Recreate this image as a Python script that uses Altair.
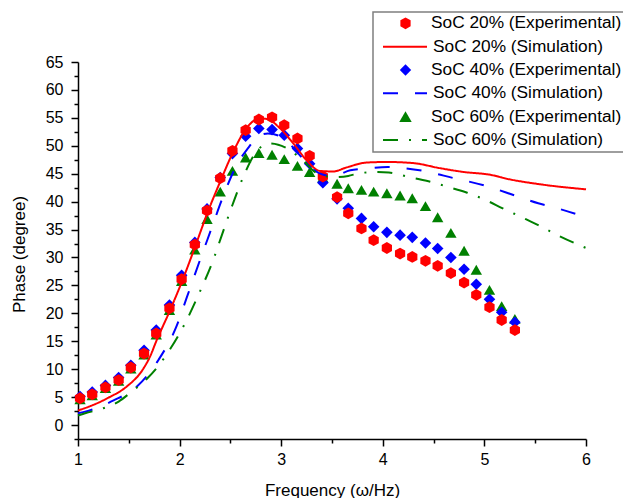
import altair as alt
import pandas as pd

# ---------------- data ----------------
freq_exp = [1.02, 1.14, 1.27, 1.40, 1.52, 1.65, 1.77, 1.90, 2.02, 2.15, 2.27, 2.40,
            2.52, 2.65, 2.78, 2.91, 3.03, 3.16, 3.28, 3.41, 3.55, 3.66, 3.79, 3.91,
            4.04, 4.17, 4.29, 4.42, 4.54, 4.67, 4.80, 4.92, 5.05, 5.17, 5.30]
phase_exp_20 = [4.8, 5.5, 6.75, 8.05, 10.3, 12.8, 16.4, 20.9, 26.1, 32.3, 38.4, 44.2,
                49.1, 52.8, 54.7, 55.1, 53.7, 51.3, 48.2, 44.5, 40.8, 37.9, 35.2, 33.1,
                31.7, 30.7, 30.1, 29.4, 28.5, 27.2, 25.5, 23.3, 21.1, 18.8, 17.0]
phase_exp_40 = [5.1, 5.9, 7.1, 8.5, 10.7, 13.4, 17.0, 21.5, 26.8, 32.7, 38.7, 44.3,
                48.6, 51.7, 53.1, 52.9, 51.9, 49.5, 46.8, 43.4, 40.5, 38.8, 37.0, 35.5,
                34.5, 34.0, 33.6, 32.6, 31.6, 30.0, 27.9, 25.2, 22.5, 20.2, 18.4]
phase_exp_60 = [4.6, 5.3, 6.6, 7.9, 10.1, 12.6, 16.2, 20.6, 25.8, 31.4, 36.9, 41.8,
                45.5, 47.9, 48.7, 48.4, 47.6, 46.4, 45.3, 44.3, 43.2, 42.4, 42.1, 41.8,
                41.5, 41.1, 40.6, 39.2, 37.2, 34.4, 31.2, 27.8, 24.2, 21.3, 19.0]

freq_sim_20 = [1.00, 1.15, 1.30, 1.48, 1.64, 1.71, 1.77, 1.90, 2.03, 2.15, 2.27, 2.40,
               2.53, 2.66, 2.79, 2.86, 2.99, 3.12, 3.25, 3.38, 3.51, 3.64, 3.84, 4.04,
               4.30, 4.56, 4.80, 5.06, 5.22, 5.55, 6.00]
phase_sim_20 = [2.6, 3.6, 4.9, 6.9, 10.0, 12.3, 15.0, 20.3, 26.0, 31.8, 37.8, 43.6,
                49.0, 53.2, 54.9, 54.8, 53.1, 50.4, 47.4, 45.5, 45.4, 46.1, 47.0, 47.1,
                46.9, 46.0, 45.3, 44.8, 44.1, 43.1, 42.2]

freq_sim_40 = [1.00, 1.07, 1.35, 1.58, 1.79, 1.97, 2.07, 2.20, 2.31, 2.43, 2.56, 2.67,
               2.78, 2.87, 3.02, 3.15, 3.28, 3.40, 3.51, 3.68, 3.82, 4.05, 4.15, 4.40,
               4.70, 5.00, 5.30, 5.53, 5.68, 6.00]
phase_sim_40 = [2.1, 2.4, 4.4, 6.9, 11.6, 17.7, 22.8, 29.5, 35.0, 41.0, 46.5, 49.5,
                51.8, 52.2, 51.4, 49.0, 46.3, 44.9, 44.6, 45.6, 45.9, 46.2, 46.1, 45.5,
                44.2, 42.9, 41.1, 39.7, 39.0, 37.2]

freq_sim_60 = [1.00, 1.07, 1.25, 1.40, 1.51, 1.69, 1.80, 1.90, 2.07, 2.20, 2.33, 2.41,
               2.52, 2.64, 2.75, 2.88, 2.97, 3.07, 3.20, 3.38, 3.53, 3.66, 3.77, 3.95,
               4.06, 4.26, 4.44, 4.63, 4.83, 5.01, 5.18, 5.38, 5.53, 5.74, 6.00]
phase_sim_60 = [1.7, 2.1, 3.0, 4.2, 5.7, 8.5, 10.8, 13.4, 18.8, 23.9, 29.5, 33.7,
                39.4, 45.0, 48.8, 50.4, 50.2, 49.4, 47.6, 44.8, 44.4, 44.6, 45.1, 45.3,
                45.2, 44.4, 43.7, 42.7, 41.6, 40.3, 38.8, 37.1, 35.8, 33.8, 31.7]

series_exp = ["SoC 20% (Experimental)", "SoC 40% (Experimental)", "SoC 60% (Experimental)"]
series_sim = ["SoC 20% (Simulation)", "SoC 40% (Simulation)", "SoC 60% (Simulation)"]
legend_labels = [series_exp[0], series_sim[0], series_exp[1], series_sim[1],
                 series_exp[2], series_sim[2]]

x_tick_values = [1, 1.5, 2, 2.5, 3, 3.5, 4, 4.5, 5, 5.5, 6]
y_tick_values = [-2.5 + 2.5 * i for i in range(28)]

# ---------------- styles ----------------
FONT = "Liberation Sans"
colors = ["#ff0000", "#0000ff", "#008000"]
HEX = "M0,-1L0.866,-0.5L0.866,0.5L0,1L-0.866,0.5L-0.866,-0.5Z"
shapes = [HEX, "diamond", "triangle-up"]
sizes = [140, 130, 155]
dashes = [[1, 0], [15, 17], [15, 11, 2, 11]]

# ---------------- tables ----------------
exp_rows = []
for k in [2, 1, 0]:  # green drawn first, red last (on top)
    ys = [phase_exp_20, phase_exp_40, phase_exp_60][k]
    for f, p in zip(freq_exp, ys):
        exp_rows.append({"freq": f, "phase": p, "series": series_exp[k]})
df_exp = pd.DataFrame(exp_rows)

sim_rows = []
for k, (fs, ps) in enumerate([(freq_sim_20, phase_sim_20), (freq_sim_40, phase_sim_40),
                              (freq_sim_60, phase_sim_60)]):
    for f, p in zip(fs, ps):
        sim_rows.append({"freq": f, "phase": p, "series": series_sim[k]})
df_sim = pd.DataFrame(sim_rows)

W, H = 508, 377
xscale = alt.Scale(domain=[1, 6], nice=False, zero=False)
yscale = alt.Scale(domain=[-2.5, 65], nice=False, zero=False)

common_axis = dict(
    domainColor="black", domainWidth=1.5, tickColor="black", tickWidth=1.5,
    labelFont=FONT, labelFontSize=16, labelColor="black", labelOverlap=False,
    labelFlush=False, format="~g",
    titleFont=FONT, titleFontSize=17, titleFontWeight="normal", titleColor="black",
    grid=False,
)
xaxis = alt.Axis(
    values=x_tick_values, title="Frequency (\u03c9/Hz)",
    labelExpr="datum.value % 1 === 0 ? datum.label : ''",
    tickSize={"condition": {"test": "datum.value % 1 === 0", "value": 7}, "value": 4},
    labelPadding=5, titleX=W / 2, titleY=51, titleBaseline="middle",
    **common_axis,
)
yaxis = alt.Axis(
    values=y_tick_values, title="Phase (degree)",
    labelExpr="datum.value % 5 === 0 ? datum.label : ''",
    tickSize={"condition": {"test": "datum.value % 5 === 0", "value": 7}, "value": 4},
    labelPadding=8, titleX=-59, titleY=192, titleBaseline="middle", titleAngle=-90,
    **common_axis,
)

points = alt.Chart(df_exp).mark_point(filled=True, opacity=1, strokeWidth=0).encode(
    x=alt.X("freq:Q", scale=xscale, axis=xaxis),
    y=alt.Y("phase:Q", scale=yscale, axis=yaxis),
    color=alt.Color("series:N", scale=alt.Scale(domain=series_exp, range=colors), legend=None),
    shape=alt.Shape("series:N", scale=alt.Scale(domain=series_exp, range=shapes), legend=None),
    size=alt.Size("series:N", scale=alt.Scale(domain=series_exp, range=sizes), legend=None),
)

lines = alt.Chart(df_sim).mark_line(strokeWidth=2, interpolate="monotone").encode(
    x=alt.X("freq:Q", scale=xscale, axis=xaxis),
    y=alt.Y("phase:Q", scale=yscale, axis=yaxis),
    color=alt.Color("series:N", scale=alt.Scale(domain=series_sim, range=colors), legend=None),
    strokeDash=alt.StrokeDash("series:N", scale=alt.Scale(domain=series_sim, range=dashes),
                              legend=None),
    detail="series:N",
)

# ---------------- legend (drawn by hand) ----------------
one = pd.DataFrame({"a": [0]})
legend_layers = [
    alt.Chart(one).mark_rect(fill="white", stroke="#7f7f7f", strokeWidth=1.5).encode(
        x=alt.value(295), x2=alt.value(570), y=alt.value(-50), y2=alt.value(90))
]
for i, lab in enumerate(legend_labels):
    k = i // 2
    yy = -38.7 + 23.33 * i
    if i % 2 == 0:
        legend_layers.append(
            alt.Chart(one).mark_point(filled=True, opacity=1, strokeWidth=0).encode(
                x=alt.value(327.5), y=alt.value(yy), shape=alt.value(shapes[k]),
                color=alt.value(colors[k]), size=alt.value(sizes[k])))
        tx = 353
    else:
        legend_layers.append(
            alt.Chart(one).mark_rule(strokeWidth=2, strokeDash=dashes[k], color=colors[k]).encode(
                x=alt.value(305), x2=alt.value(349), y=alt.value(yy)))
        tx = 355
    legend_layers.append(
        alt.Chart(one).mark_text(align="left", baseline="middle", font=FONT, fontSize=17.3,
                                 color="black").encode(
            x=alt.value(tx), y=alt.value(yy), text=alt.value(lab)))

chart = alt.layer(points, lines, *legend_layers).resolve_scale(
    color="independent"
).properties(
    width=W, height=H, autosize="none",
    padding={"left": 78, "top": 62, "right": 37, "bottom": 59},
).configure_view(stroke=None)

chart.save("out.html", embed_options={"renderer": "svg", "actions": False})
